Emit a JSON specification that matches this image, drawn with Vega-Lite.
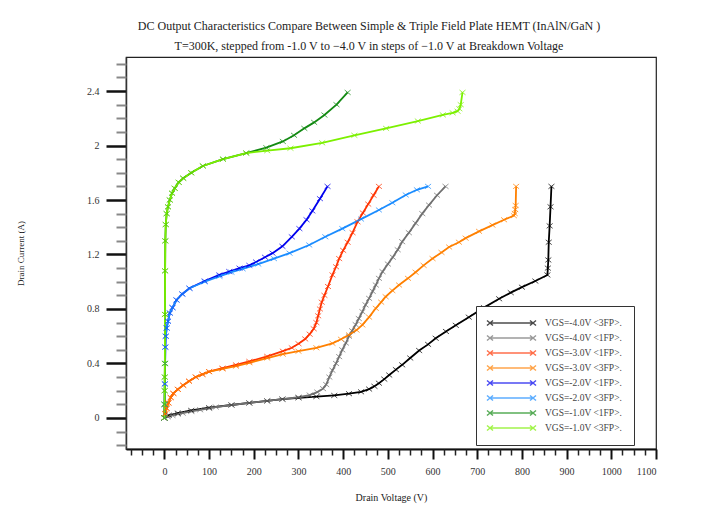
{
  "$schema": "https://vega.github.io/schema/vega-lite/v6.json",
  "autosize": {"type": "none"},
  "width": 530,
  "height": 392,
  "padding": {"left": 126, "top": 57, "right": 57, "bottom": 57},
  "background": "white",
  "config": {
    "view": {"stroke": "#222", "strokeWidth": 1.2},
    "font": "Liberation Serif"
  },
  "title": {
    "text": "DC Output Characteristics Compare Between Simple & Triple Field Plate HEMT (InAlN/GaN )",
    "subtitle": "T=300K, stepped from -1.0 V to −4.0 V in steps of −1.0 V at Breakdown Voltage",
    "font": "Liberation Serif", "fontSize": 12, "fontWeight": "normal", "color": "#222",
    "subtitleFont": "Liberation Serif", "subtitleFontSize": 12, "subtitleColor": "#222",
    "subtitlePadding": 8, "dx": -22, "offset": 4, "anchor": "middle"
  },
  "data": {"values": [
    {"s":"VGS=-4.0V <3FP>.","v":0,"i":0},{"s":"VGS=-4.0V <3FP>.","v":10,"i":0.02},{"s":"VGS=-4.0V <3FP>.","v":30,"i":0.035},{"s":"VGS=-4.0V <3FP>.","v":60,"i":0.055},{"s":"VGS=-4.0V <3FP>.","v":100,"i":0.075},{"s":"VGS=-4.0V <3FP>.","v":150,"i":0.095},{"s":"VGS=-4.0V <3FP>.","v":190,"i":0.11},{"s":"VGS=-4.0V <3FP>.","v":230,"i":0.125},{"s":"VGS=-4.0V <3FP>.","v":264,"i":0.138},{"s":"VGS=-4.0V <3FP>.","v":300,"i":0.148},{"s":"VGS=-4.0V <3FP>.","v":340,"i":0.157},{"s":"VGS=-4.0V <3FP>.","v":380,"i":0.165},{"s":"VGS=-4.0V <3FP>.","v":413,"i":0.178},{"s":"VGS=-4.0V <3FP>.","v":440,"i":0.192},{"s":"VGS=-4.0V <3FP>.","v":458,"i":0.212},{"s":"VGS=-4.0V <3FP>.","v":470,"i":0.232},{"s":"VGS=-4.0V <3FP>.","v":480,"i":0.255},{"s":"VGS=-4.0V <3FP>.","v":492,"i":0.285},{"s":"VGS=-4.0V <3FP>.","v":503,"i":0.315},{"s":"VGS=-4.0V <3FP>.","v":518,"i":0.355},{"s":"VGS=-4.0V <3FP>.","v":532,"i":0.39},{"s":"VGS=-4.0V <3FP>.","v":550,"i":0.44},{"s":"VGS=-4.0V <3FP>.","v":570,"i":0.495},{"s":"VGS=-4.0V <3FP>.","v":590,"i":0.54},{"s":"VGS=-4.0V <3FP>.","v":607,"i":0.585},{"s":"VGS=-4.0V <3FP>.","v":630,"i":0.635},{"s":"VGS=-4.0V <3FP>.","v":652,"i":0.68},{"s":"VGS=-4.0V <3FP>.","v":681,"i":0.74},{"s":"VGS=-4.0V <3FP>.","v":715,"i":0.81},{"s":"VGS=-4.0V <3FP>.","v":749,"i":0.875},{"s":"VGS=-4.0V <3FP>.","v":775,"i":0.92},{"s":"VGS=-4.0V <3FP>.","v":800,"i":0.96},{"s":"VGS=-4.0V <3FP>.","v":830,"i":1.005},{"s":"VGS=-4.0V <3FP>.","v":857,"i":1.05},{"s":"VGS=-4.0V <3FP>.","v":858,"i":1.1},{"s":"VGS=-4.0V <3FP>.","v":859,"i":1.16},{"s":"VGS=-4.0V <3FP>.","v":860,"i":1.29},{"s":"VGS=-4.0V <3FP>.","v":862,"i":1.41},{"s":"VGS=-4.0V <3FP>.","v":864,"i":1.55},{"s":"VGS=-4.0V <3FP>.","v":866,"i":1.7},

    {"s":"VGS=-4.0V <1FP>.","v":0,"i":0},{"s":"VGS=-4.0V <1FP>.","v":8,"i":0.008},{"s":"VGS=-4.0V <1FP>.","v":18,"i":0.018},{"s":"VGS=-4.0V <1FP>.","v":30,"i":0.028},{"s":"VGS=-4.0V <1FP>.","v":41,"i":0.035},{"s":"VGS=-4.0V <1FP>.","v":60,"i":0.048},{"s":"VGS=-4.0V <1FP>.","v":80,"i":0.06},{"s":"VGS=-4.0V <1FP>.","v":100,"i":0.07},{"s":"VGS=-4.0V <1FP>.","v":115,"i":0.08},{"s":"VGS=-4.0V <1FP>.","v":150,"i":0.095},{"s":"VGS=-4.0V <1FP>.","v":190,"i":0.11},{"s":"VGS=-4.0V <1FP>.","v":230,"i":0.125},{"s":"VGS=-4.0V <1FP>.","v":264,"i":0.138},{"s":"VGS=-4.0V <1FP>.","v":300,"i":0.152},{"s":"VGS=-4.0V <1FP>.","v":325,"i":0.168},{"s":"VGS=-4.0V <1FP>.","v":342,"i":0.19},{"s":"VGS=-4.0V <1FP>.","v":355,"i":0.215},{"s":"VGS=-4.0V <1FP>.","v":362,"i":0.245},{"s":"VGS=-4.0V <1FP>.","v":369,"i":0.3},{"s":"VGS=-4.0V <1FP>.","v":376,"i":0.35},{"s":"VGS=-4.0V <1FP>.","v":384,"i":0.4},{"s":"VGS=-4.0V <1FP>.","v":391,"i":0.45},{"s":"VGS=-4.0V <1FP>.","v":398,"i":0.5},{"s":"VGS=-4.0V <1FP>.","v":406,"i":0.55},{"s":"VGS=-4.0V <1FP>.","v":413,"i":0.6},{"s":"VGS=-4.0V <1FP>.","v":420,"i":0.64},{"s":"VGS=-4.0V <1FP>.","v":428,"i":0.685},{"s":"VGS=-4.0V <1FP>.","v":435,"i":0.73},{"s":"VGS=-4.0V <1FP>.","v":443,"i":0.78},{"s":"VGS=-4.0V <1FP>.","v":450,"i":0.83},{"s":"VGS=-4.0V <1FP>.","v":458,"i":0.878},{"s":"VGS=-4.0V <1FP>.","v":466,"i":0.93},{"s":"VGS=-4.0V <1FP>.","v":473,"i":0.976},{"s":"VGS=-4.0V <1FP>.","v":480,"i":1.025},{"s":"VGS=-4.0V <1FP>.","v":488,"i":1.074},{"s":"VGS=-4.0V <1FP>.","v":500,"i":1.13},{"s":"VGS=-4.0V <1FP>.","v":511,"i":1.18},{"s":"VGS=-4.0V <1FP>.","v":522,"i":1.235},{"s":"VGS=-4.0V <1FP>.","v":532,"i":1.294},{"s":"VGS=-4.0V <1FP>.","v":547,"i":1.36},{"s":"VGS=-4.0V <1FP>.","v":562,"i":1.43},{"s":"VGS=-4.0V <1FP>.","v":577,"i":1.5},{"s":"VGS=-4.0V <1FP>.","v":592,"i":1.563},{"s":"VGS=-4.0V <1FP>.","v":610,"i":1.635},{"s":"VGS=-4.0V <1FP>.","v":629,"i":1.7},

    {"s":"VGS=-3.0V <1FP>.","v":0,"i":0},{"s":"VGS=-3.0V <1FP>.","v":2,"i":0.03},{"s":"VGS=-3.0V <1FP>.","v":5,"i":0.07},{"s":"VGS=-3.0V <1FP>.","v":9,"i":0.11},{"s":"VGS=-3.0V <1FP>.","v":14,"i":0.15},{"s":"VGS=-3.0V <1FP>.","v":20,"i":0.18},{"s":"VGS=-3.0V <1FP>.","v":30,"i":0.21},{"s":"VGS=-3.0V <1FP>.","v":42,"i":0.24},{"s":"VGS=-3.0V <1FP>.","v":55,"i":0.27},{"s":"VGS=-3.0V <1FP>.","v":70,"i":0.3},{"s":"VGS=-3.0V <1FP>.","v":85,"i":0.32},{"s":"VGS=-3.0V <1FP>.","v":100,"i":0.34},{"s":"VGS=-3.0V <1FP>.","v":130,"i":0.365},{"s":"VGS=-3.0V <1FP>.","v":160,"i":0.39},{"s":"VGS=-3.0V <1FP>.","v":190,"i":0.415},{"s":"VGS=-3.0V <1FP>.","v":230,"i":0.452},{"s":"VGS=-3.0V <1FP>.","v":265,"i":0.49},{"s":"VGS=-3.0V <1FP>.","v":285,"i":0.515},{"s":"VGS=-3.0V <1FP>.","v":300,"i":0.545},{"s":"VGS=-3.0V <1FP>.","v":315,"i":0.58},{"s":"VGS=-3.0V <1FP>.","v":325,"i":0.615},{"s":"VGS=-3.0V <1FP>.","v":334,"i":0.655},{"s":"VGS=-3.0V <1FP>.","v":340,"i":0.7},{"s":"VGS=-3.0V <1FP>.","v":344,"i":0.75},{"s":"VGS=-3.0V <1FP>.","v":348,"i":0.8},{"s":"VGS=-3.0V <1FP>.","v":352,"i":0.85},{"s":"VGS=-3.0V <1FP>.","v":358,"i":0.9},{"s":"VGS=-3.0V <1FP>.","v":366,"i":0.965},{"s":"VGS=-3.0V <1FP>.","v":376,"i":1.05},{"s":"VGS=-3.0V <1FP>.","v":384,"i":1.11},{"s":"VGS=-3.0V <1FP>.","v":391,"i":1.17},{"s":"VGS=-3.0V <1FP>.","v":400,"i":1.23},{"s":"VGS=-3.0V <1FP>.","v":410,"i":1.29},{"s":"VGS=-3.0V <1FP>.","v":421,"i":1.36},{"s":"VGS=-3.0V <1FP>.","v":432,"i":1.44},{"s":"VGS=-3.0V <1FP>.","v":444,"i":1.505},{"s":"VGS=-3.0V <1FP>.","v":456,"i":1.57},{"s":"VGS=-3.0V <1FP>.","v":468,"i":1.635},{"s":"VGS=-3.0V <1FP>.","v":480,"i":1.7},

    {"s":"VGS=-3.0V <3FP>.","v":0,"i":0},{"s":"VGS=-3.0V <3FP>.","v":2,"i":0.03},{"s":"VGS=-3.0V <3FP>.","v":5,"i":0.07},{"s":"VGS=-3.0V <3FP>.","v":9,"i":0.11},{"s":"VGS=-3.0V <3FP>.","v":14,"i":0.15},{"s":"VGS=-3.0V <3FP>.","v":20,"i":0.18},{"s":"VGS=-3.0V <3FP>.","v":30,"i":0.21},{"s":"VGS=-3.0V <3FP>.","v":42,"i":0.24},{"s":"VGS=-3.0V <3FP>.","v":55,"i":0.27},{"s":"VGS=-3.0V <3FP>.","v":70,"i":0.3},{"s":"VGS=-3.0V <3FP>.","v":85,"i":0.32},{"s":"VGS=-3.0V <3FP>.","v":100,"i":0.34},{"s":"VGS=-3.0V <3FP>.","v":130,"i":0.36},{"s":"VGS=-3.0V <3FP>.","v":160,"i":0.38},{"s":"VGS=-3.0V <3FP>.","v":190,"i":0.405},{"s":"VGS=-3.0V <3FP>.","v":230,"i":0.44},{"s":"VGS=-3.0V <3FP>.","v":265,"i":0.468},{"s":"VGS=-3.0V <3FP>.","v":300,"i":0.49},{"s":"VGS=-3.0V <3FP>.","v":340,"i":0.515},{"s":"VGS=-3.0V <3FP>.","v":376,"i":0.548},{"s":"VGS=-3.0V <3FP>.","v":395,"i":0.578},{"s":"VGS=-3.0V <3FP>.","v":413,"i":0.61},{"s":"VGS=-3.0V <3FP>.","v":430,"i":0.645},{"s":"VGS=-3.0V <3FP>.","v":443,"i":0.683},{"s":"VGS=-3.0V <3FP>.","v":458,"i":0.74},{"s":"VGS=-3.0V <3FP>.","v":473,"i":0.805},{"s":"VGS=-3.0V <3FP>.","v":485,"i":0.85},{"s":"VGS=-3.0V <3FP>.","v":495,"i":0.89},{"s":"VGS=-3.0V <3FP>.","v":510,"i":0.935},{"s":"VGS=-3.0V <3FP>.","v":525,"i":0.976},{"s":"VGS=-3.0V <3FP>.","v":545,"i":1.025},{"s":"VGS=-3.0V <3FP>.","v":562,"i":1.07},{"s":"VGS=-3.0V <3FP>.","v":580,"i":1.12},{"s":"VGS=-3.0V <3FP>.","v":600,"i":1.17},{"s":"VGS=-3.0V <3FP>.","v":620,"i":1.215},{"s":"VGS=-3.0V <3FP>.","v":637,"i":1.255},{"s":"VGS=-3.0V <3FP>.","v":659,"i":1.29},{"s":"VGS=-3.0V <3FP>.","v":674,"i":1.32},{"s":"VGS=-3.0V <3FP>.","v":704,"i":1.37},{"s":"VGS=-3.0V <3FP>.","v":734,"i":1.416},{"s":"VGS=-3.0V <3FP>.","v":760,"i":1.455},{"s":"VGS=-3.0V <3FP>.","v":782,"i":1.485},{"s":"VGS=-3.0V <3FP>.","v":784,"i":1.5},{"s":"VGS=-3.0V <3FP>.","v":785,"i":1.53},{"s":"VGS=-3.0V <3FP>.","v":786,"i":1.56},{"s":"VGS=-3.0V <3FP>.","v":787,"i":1.7},

    {"s":"VGS=-2.0V <1FP>.","v":0,"i":0},{"s":"VGS=-2.0V <1FP>.","v":0.5,"i":0.1},{"s":"VGS=-2.0V <1FP>.","v":1,"i":0.25},{"s":"VGS=-2.0V <1FP>.","v":1.5,"i":0.4},{"s":"VGS=-2.0V <1FP>.","v":2,"i":0.52},{"s":"VGS=-2.0V <1FP>.","v":3,"i":0.6},{"s":"VGS=-2.0V <1FP>.","v":5,"i":0.66},{"s":"VGS=-2.0V <1FP>.","v":8,"i":0.71},{"s":"VGS=-2.0V <1FP>.","v":12,"i":0.77},{"s":"VGS=-2.0V <1FP>.","v":18,"i":0.81},{"s":"VGS=-2.0V <1FP>.","v":27,"i":0.866},{"s":"VGS=-2.0V <1FP>.","v":40,"i":0.91},{"s":"VGS=-2.0V <1FP>.","v":56,"i":0.952},{"s":"VGS=-2.0V <1FP>.","v":90,"i":1.005},{"s":"VGS=-2.0V <1FP>.","v":123,"i":1.05},{"s":"VGS=-2.0V <1FP>.","v":145,"i":1.075},{"s":"VGS=-2.0V <1FP>.","v":168,"i":1.1},{"s":"VGS=-2.0V <1FP>.","v":190,"i":1.12},{"s":"VGS=-2.0V <1FP>.","v":205,"i":1.145},{"s":"VGS=-2.0V <1FP>.","v":225,"i":1.18},{"s":"VGS=-2.0V <1FP>.","v":242,"i":1.21},{"s":"VGS=-2.0V <1FP>.","v":264,"i":1.26},{"s":"VGS=-2.0V <1FP>.","v":285,"i":1.33},{"s":"VGS=-2.0V <1FP>.","v":302,"i":1.39},{"s":"VGS=-2.0V <1FP>.","v":318,"i":1.455},{"s":"VGS=-2.0V <1FP>.","v":331,"i":1.52},{"s":"VGS=-2.0V <1FP>.","v":348,"i":1.61},{"s":"VGS=-2.0V <1FP>.","v":365,"i":1.7},

    {"s":"VGS=-2.0V <3FP>.","v":0,"i":0},{"s":"VGS=-2.0V <3FP>.","v":0.5,"i":0.1},{"s":"VGS=-2.0V <3FP>.","v":1,"i":0.25},{"s":"VGS=-2.0V <3FP>.","v":1.5,"i":0.4},{"s":"VGS=-2.0V <3FP>.","v":2,"i":0.52},{"s":"VGS=-2.0V <3FP>.","v":3,"i":0.6},{"s":"VGS=-2.0V <3FP>.","v":5,"i":0.66},{"s":"VGS=-2.0V <3FP>.","v":8,"i":0.71},{"s":"VGS=-2.0V <3FP>.","v":12,"i":0.77},{"s":"VGS=-2.0V <3FP>.","v":18,"i":0.81},{"s":"VGS=-2.0V <3FP>.","v":27,"i":0.866},{"s":"VGS=-2.0V <3FP>.","v":40,"i":0.91},{"s":"VGS=-2.0V <3FP>.","v":56,"i":0.952},{"s":"VGS=-2.0V <3FP>.","v":90,"i":1.0},{"s":"VGS=-2.0V <3FP>.","v":123,"i":1.04},{"s":"VGS=-2.0V <3FP>.","v":150,"i":1.07},{"s":"VGS=-2.0V <3FP>.","v":175,"i":1.095},{"s":"VGS=-2.0V <3FP>.","v":210,"i":1.13},{"s":"VGS=-2.0V <3FP>.","v":245,"i":1.17},{"s":"VGS=-2.0V <3FP>.","v":280,"i":1.21},{"s":"VGS=-2.0V <3FP>.","v":324,"i":1.27},{"s":"VGS=-2.0V <3FP>.","v":360,"i":1.33},{"s":"VGS=-2.0V <3FP>.","v":398,"i":1.39},{"s":"VGS=-2.0V <3FP>.","v":440,"i":1.46},{"s":"VGS=-2.0V <3FP>.","v":480,"i":1.527},{"s":"VGS=-2.0V <3FP>.","v":510,"i":1.58},{"s":"VGS=-2.0V <3FP>.","v":540,"i":1.637},{"s":"VGS=-2.0V <3FP>.","v":565,"i":1.675},{"s":"VGS=-2.0V <3FP>.","v":590,"i":1.7},

    {"s":"VGS=-1.0V <1FP>.","v":0,"i":0},{"s":"VGS=-1.0V <1FP>.","v":0.3,"i":0.1},{"s":"VGS=-1.0V <1FP>.","v":0.5,"i":0.2},{"s":"VGS=-1.0V <1FP>.","v":0.7,"i":0.3},{"s":"VGS=-1.0V <1FP>.","v":1,"i":0.4},{"s":"VGS=-1.0V <1FP>.","v":1.2,"i":0.76},{"s":"VGS=-1.0V <1FP>.","v":1.5,"i":1.08},{"s":"VGS=-1.0V <1FP>.","v":2,"i":1.3},{"s":"VGS=-1.0V <1FP>.","v":3,"i":1.42},{"s":"VGS=-1.0V <1FP>.","v":5,"i":1.5},{"s":"VGS=-1.0V <1FP>.","v":8,"i":1.55},{"s":"VGS=-1.0V <1FP>.","v":12,"i":1.6},{"s":"VGS=-1.0V <1FP>.","v":17,"i":1.65},{"s":"VGS=-1.0V <1FP>.","v":23,"i":1.686},{"s":"VGS=-1.0V <1FP>.","v":32,"i":1.73},{"s":"VGS=-1.0V <1FP>.","v":42,"i":1.76},{"s":"VGS=-1.0V <1FP>.","v":60,"i":1.8},{"s":"VGS=-1.0V <1FP>.","v":86,"i":1.85},{"s":"VGS=-1.0V <1FP>.","v":131,"i":1.9},{"s":"VGS=-1.0V <1FP>.","v":183,"i":1.945},{"s":"VGS=-1.0V <1FP>.","v":228,"i":1.984},{"s":"VGS=-1.0V <1FP>.","v":265,"i":2.03},{"s":"VGS=-1.0V <1FP>.","v":290,"i":2.075},{"s":"VGS=-1.0V <1FP>.","v":313,"i":2.126},{"s":"VGS=-1.0V <1FP>.","v":335,"i":2.17},{"s":"VGS=-1.0V <1FP>.","v":358,"i":2.224},{"s":"VGS=-1.0V <1FP>.","v":385,"i":2.3},{"s":"VGS=-1.0V <1FP>.","v":410,"i":2.39},

    {"s":"VGS=-1.0V <3FP>.","v":0,"i":0},{"s":"VGS=-1.0V <3FP>.","v":0.3,"i":0.1},{"s":"VGS=-1.0V <3FP>.","v":0.5,"i":0.2},{"s":"VGS=-1.0V <3FP>.","v":0.7,"i":0.3},{"s":"VGS=-1.0V <3FP>.","v":1,"i":0.4},{"s":"VGS=-1.0V <3FP>.","v":1.2,"i":0.76},{"s":"VGS=-1.0V <3FP>.","v":1.5,"i":1.08},{"s":"VGS=-1.0V <3FP>.","v":2,"i":1.3},{"s":"VGS=-1.0V <3FP>.","v":3,"i":1.42},{"s":"VGS=-1.0V <3FP>.","v":5,"i":1.5},{"s":"VGS=-1.0V <3FP>.","v":8,"i":1.55},{"s":"VGS=-1.0V <3FP>.","v":12,"i":1.6},{"s":"VGS=-1.0V <3FP>.","v":17,"i":1.65},{"s":"VGS=-1.0V <3FP>.","v":23,"i":1.686},{"s":"VGS=-1.0V <3FP>.","v":32,"i":1.73},{"s":"VGS=-1.0V <3FP>.","v":42,"i":1.76},{"s":"VGS=-1.0V <3FP>.","v":60,"i":1.8},{"s":"VGS=-1.0V <3FP>.","v":86,"i":1.85},{"s":"VGS=-1.0V <3FP>.","v":131,"i":1.9},{"s":"VGS=-1.0V <3FP>.","v":183,"i":1.945},{"s":"VGS=-1.0V <3FP>.","v":230,"i":1.962},{"s":"VGS=-1.0V <3FP>.","v":282,"i":1.98},{"s":"VGS=-1.0V <3FP>.","v":353,"i":2.02},{"s":"VGS=-1.0V <3FP>.","v":425,"i":2.075},{"s":"VGS=-1.0V <3FP>.","v":496,"i":2.126},{"s":"VGS=-1.0V <3FP>.","v":567,"i":2.18},{"s":"VGS=-1.0V <3FP>.","v":623,"i":2.225},{"s":"VGS=-1.0V <3FP>.","v":645,"i":2.24},{"s":"VGS=-1.0V <3FP>.","v":656,"i":2.252},{"s":"VGS=-1.0V <3FP>.","v":660,"i":2.27},{"s":"VGS=-1.0V <3FP>.","v":663,"i":2.3},{"s":"VGS=-1.0V <3FP>.","v":667,"i":2.39}
  ]},
  "layer": [
    {
      "mark": {"type": "line", "strokeWidth": 1.8, "clip": true},
      "encoding": {
        "x": {"field": "v", "type": "quantitative",
          "scale": {"domain": [-86, 1100], "nice": false, "zero": false},
          "axis": {"orient": "bottom", "values": [0,100,200,300,400,500,600,700,800,900,1000,1100], "format": "d",
            "tickSize": 10, "tickWidth": 2, "tickColor": "#111", "grid": false,
            "domain": true, "domainColor": "#111", "domainWidth": 2,
            "labelFont": "Liberation Serif", "labelFontSize": 10, "labelColor": "#333", "labelPadding": 7,
            "title": "Drain Voltage (V)", "titleFont": "Liberation Serif", "titleFontSize": 10, "titleFontWeight": "normal", "titleColor": "#222", "titlePadding": 16}},
        "y": {"field": "i", "type": "quantitative",
          "scale": {"domain": [-0.228, 2.65], "nice": false, "zero": false},
          "axis": {"orient": "left", "values": [0,0.4,0.8,1.2,1.6,2,2.4], "format": "~g",
            "tickSize": 20, "tickWidth": 2.5, "tickColor": "#111", "grid": false,
            "domain": true, "domainColor": "#333", "domainWidth": 1.5,
            "labelFont": "Liberation Serif", "labelFontSize": 10, "labelColor": "#333", "labelPadding": 7,
            "title": "Drain Current (A)", "titleFont": "Liberation Serif", "titleFontSize": 9, "titleFontWeight": "normal", "titleColor": "#222", "titlePadding": 61}},
        "color": {"field": "s", "type": "nominal",
          "scale": {
            "domain": ["VGS=-4.0V <3FP>.","VGS=-4.0V <1FP>.","VGS=-3.0V <1FP>.","VGS=-3.0V <3FP>.","VGS=-2.0V <1FP>.","VGS=-2.0V <3FP>.","VGS=-1.0V <1FP>.","VGS=-1.0V <3FP>."],
            "range": ["#000000","#707070","#ff3300","#ff8000","#0000ee","#1a8cff","#138a13","#7cf000"]},
          "legend": {"orient": "none", "legendX": 350, "legendY": 249, "title": null,
            "strokeColor": "#333", "fillColor": "white", "padding": 11,
            "symbolType": "M-0.6,0H8M-1.2,-0.5L0,0.5M-1.2,0.5L0,-0.5M7.4,-0.5L8.6,0.5M7.4,0.5L8.6,-0.5",
            "symbolSize": 100, "symbolStrokeWidth": 1.5, "symbolFillColor": "transparent",
            "labelOffset": 46, "labelFont": "Liberation Serif", "labelFontSize": 9.5, "labelColor": "#444",
            "rowPadding": 3, "labelLimit": 200}}
      }
    },
    {
      "mark": {"type": "point", "shape": "M-1,-0.8L1,0.8M-1,0.8L1,-0.8", "size": 36, "filled": false, "strokeWidth": 1, "clip": true},
      "encoding": {
        "x": {"field": "v", "type": "quantitative",
          "axis": {"orient": "bottom", "values": [-75,-50,-25,25,50,75,125,150,175,225,250,275,325,350,375,425,450,475,525,550,575,625,650,675,725,750,775,825,850,875,925,950,975,1025,1050,1075],
            "tickSize": 6, "tickWidth": 1.5, "tickColor": "#222", "labels": false, "domain": false, "grid": false, "title": null}},
        "y": {"field": "i", "type": "quantitative",
          "axis": {"orient": "left", "values": [-0.2,-0.1,0.1,0.2,0.3,0.5,0.6,0.7,0.9,1.0,1.1,1.3,1.4,1.5,1.7,1.8,1.9,2.1,2.2,2.3,2.5,2.6],
            "tickSize": 10, "tickWidth": 2, "tickColor": "#888", "labels": false, "domain": false, "grid": false, "title": null}},
        "color": {"field": "s", "type": "nominal"}
      }
    }
  ],
  "resolve": {"axis": {"x": "independent", "y": "independent"}}
}
